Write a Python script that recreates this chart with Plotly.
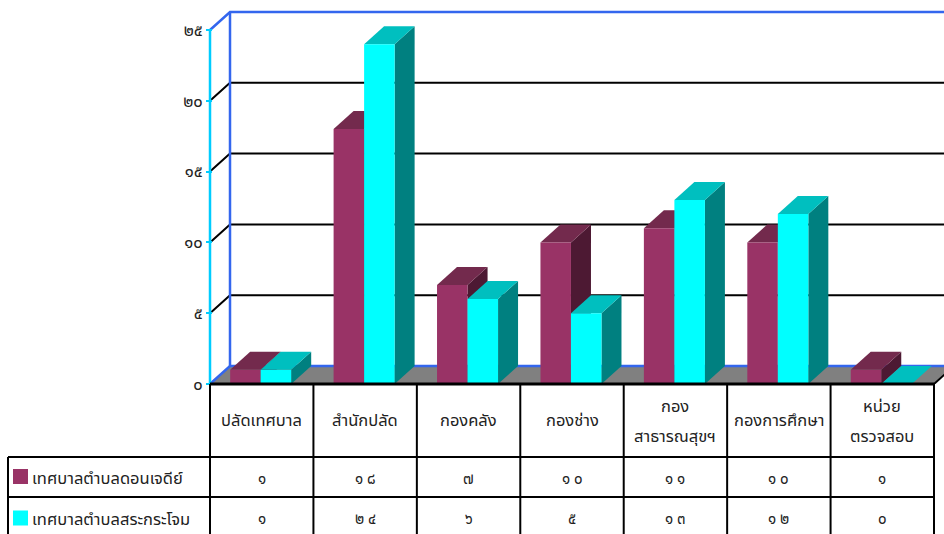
import plotly.graph_objects as go

categories = [["ปลัดเทศบาล"], ["สำนักปลัด"], ["กองคลัง"], ["กองช่าง"], ["กอง", "สาธารณสุขฯ"], ["กองการศึกษา"], ["หน่วย", "ตรวจสอบ"]]
series_a_name = "เทศบาลตำบลดอนเจดีย์"
series_b_name = "เทศบาลตำบลสระกระโจม"
series_a = [1, 18, 7, 10, 11, 10, 1]
series_b = [1, 24, 6, 5, 13, 12, 0]
y_ticks = [0, 5, 10, 15, 20, 25]

W, H = 944, 534
X0, X1, Y0, Y1 = 210, 934, 384, 30      # plot box in pixels
PAD = 6                                 # room left of the axis so its line is not clipped
DEPTH_X, DEPTH_Y = 20, 18               # 3-D depth in pixels
ROW_Y = [384, 457, 497, 536]
LEFT = 8
FONT = "Noto Sans Thai, Noto Sans, DejaVu Sans, sans-serif"
PURPLE, PURPLE_TOP, PURPLE_SIDE = "#993366", "#732A4D", "#4D1933"
CYAN, CYAN_TOP, CYAN_SIDE = "#00FFFF", "#00BFBF", "#008080"
BLUE, AXIS_BLUE, GRAY = "#3366EE", "#00CCFF", "#808080"

n = len(categories)
unit_x = (X1 - X0) / n
unit_y = (Y0 - Y1) / 25
dx = DEPTH_X / unit_x
dy = DEPTH_Y / unit_y
x_min = -PAD / unit_x
x_max = (W - X0) / unit_x
y_max = Y0 / unit_y
BARGAP = 0.41
bw = (1 - BARGAP) / 2
CENTER = 0.49
thai = str.maketrans("0123456789", "๐๑๒๓๔๕๖๗๘๙")
th = lambda v: " ".join(str(v).translate(thai)) if v >= 10 else str(v).translate(thai)
px = lambda x: x / W
py = lambda y: 1 - y / H

fig = go.Figure()


def poly(xs, ys, color):
    fig.add_trace(go.Scatter(x=xs, y=ys, mode="lines", fill="toself", fillcolor=color,
                             line=dict(width=0, color=color), hoverinfo="skip", showlegend=False))


def line(xs, ys, color, width=2):
    fig.add_trace(go.Scatter(x=xs, y=ys, mode="lines", line=dict(width=width, color=color),
                             hoverinfo="skip", showlegend=False, cliponaxis=False))


# floor and walls
poly([0, dx, n + dx, n, 0], [0, dy, dy, 0, 0], GRAY)
line([0, dx, n + dx], [0, dy, dy], BLUE, 2.5)
for t in y_ticks[1:-1]:
    line([0, dx, n + dx], [t, t + dy, t + dy], "#000000")
line([0, dx, n + dx], [25, 25 + dy, 25 + dy], BLUE, 2.5)
line([dx, dx], [dy, 25 + dy], BLUE, 2.5)
line([n, n + dx], [0, dy], "#000000")
line([0, 0], [0, 25], AXIS_BLUE, 2.5)


# depth faces of the columns
def faces(values, left, side, top):
    for i, v in enumerate(values):
        a = i + CENTER + left
        b = a + bw
        if v > 0:
            poly([b, b + dx, b + dx, b, b], [0, dy, v + dy, v, 0], side)
        poly([a, a + dx, b + dx, b, a], [v, v + dy, v + dy, v, v], top)


faces(series_a, -bw, PURPLE_SIDE, PURPLE_TOP)
faces(series_b, 0, CYAN_SIDE, CYAN_TOP)

# front faces
xc = [i + CENTER for i in range(n)]
fig.add_trace(go.Bar(x=xc, y=series_a, name=series_a_name, marker=dict(color=PURPLE, line_width=0),
                     xaxis="x2", yaxis="y2", showlegend=False))
fig.add_trace(go.Bar(x=xc, y=series_b, name=series_b_name, marker=dict(color=CYAN, line_width=0),
                     xaxis="x2", yaxis="y2", showlegend=False))

# data table
shapes, notes = [], []


def seg(x0, y0, x1, y1, width=2):
    shapes.append(dict(type="line", xref="paper", yref="paper", x0=px(x0), x1=px(x1),
                       y0=py(y0), y1=py(y1), line=dict(color="#000000", width=width), layer="above"))


def label(x, y, text, size=16.5, anchor="center"):
    notes.append(dict(xref="paper", yref="paper", x=px(x), y=py(y), text=text, showarrow=False,
                      xanchor=anchor, yanchor="middle", font=dict(family=FONT, size=size, color="#222222")))


cols = [X0 + (X1 - X0) * i / n for i in range(n + 1)]
seg(X0, ROW_Y[0], X1, ROW_Y[0], 3)
seg(LEFT, ROW_Y[1], X1, ROW_Y[1])
seg(LEFT, ROW_Y[2], X1, ROW_Y[2])
seg(LEFT, ROW_Y[1], LEFT, ROW_Y[3])
for c in cols:
    seg(c, ROW_Y[0], c, ROW_Y[3])

for i, lines in enumerate(categories):
    xm = (cols[i] + cols[i + 1]) / 2
    yc = (ROW_Y[0] + ROW_Y[1]) / 2
    if len(lines) == 1:
        label(xm, yc, lines[0])
    else:
        label(xm, yc - 14, lines[0])
        label(xm, yc + 16, lines[1])
    label(xm, (ROW_Y[1] + ROW_Y[2]) / 2 + 2, th(series_a[i]), 15)
    label(xm, (ROW_Y[2] + ROW_Y[3]) / 2 + 3, th(series_b[i]), 15)

for name, color, row in [(series_a_name, PURPLE, 1), (series_b_name, CYAN, 2)]:
    yc = (ROW_Y[row] + ROW_Y[row + 1]) / 2 + (0 if row == 1 else 2)
    shapes.append(dict(type="rect", xref="paper", yref="paper", x0=px(13), x1=px(28),
                       y0=py(yc - 8), y1=py(yc + 7), fillcolor=color, line_width=0, layer="above"))
    label(30, yc + 1, name, 16.5, "left")

fig.update_layout(
    width=W, height=H, margin=dict(l=0, r=0, t=0, b=0, autoexpand=False), paper_bgcolor="#FFFFFF",
    plot_bgcolor="rgba(0,0,0,0)",
    barmode="group", bargap=BARGAP, bargroupgap=0, showlegend=False, shapes=shapes, annotations=notes,
    font=dict(family=FONT),
    xaxis=dict(domain=[px(X0 - PAD), 1], range=[x_min, x_max], visible=False, fixedrange=True),
    yaxis=dict(domain=[py(Y0), 1], range=[0, y_max], tickmode="array", tickvals=y_ticks,
               anchor="free", position=px(X0 + 2),
               ticktext=[str(t).translate(thai) for t in y_ticks], ticks="outside", ticklen=6, tickwidth=2,
               tickcolor=AXIS_BLUE, showline=False, showgrid=False,
               zeroline=False, tickfont=dict(family=FONT, size=16.5, color="#222222"), fixedrange=True),
    xaxis2=dict(domain=[px(X0 - PAD), 1], range=[x_min, x_max], visible=False, anchor="y2", overlaying="x", fixedrange=True),
    yaxis2=dict(domain=[py(Y0), 1], range=[0, y_max], visible=False, anchor="x2", overlaying="y", fixedrange=True),
)
fig.write_html("out.html", config={"displayModeBar": False},
               post_script="document.body.style.margin='0';document.body.style.overflow='hidden';")
